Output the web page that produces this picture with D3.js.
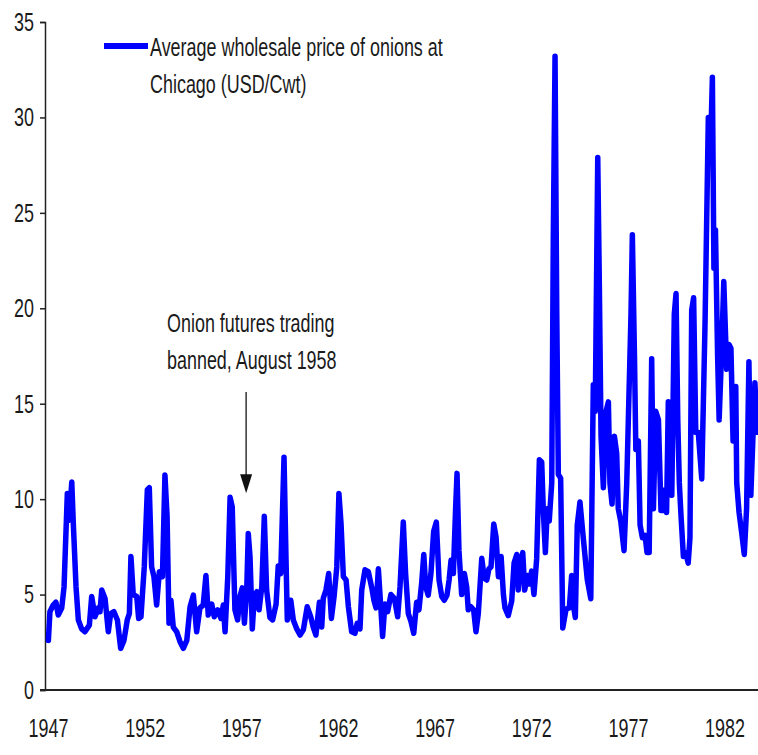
<!DOCTYPE html>
<html>
<head>
<meta charset="utf-8">
<title>Onion prices</title>
<script src="https://cdn.jsdelivr.net/npm/d3@7"></script>
<style>
	body { margin: 0; background: #fff; }
	text { font-family: "Liberation Sans", Arial, sans-serif; fill: #1a1a1a; }
</style>
</head>
<body>
<script>

// decimal years of the line vertices
var dates = [
	1947.02, 1947.10, 1947.27, 1947.41, 1947.53, 1947.71, 1947.83, 1948.00, 1948.10, 1948.23,
	1948.31, 1948.45, 1948.57, 1948.74, 1948.91, 1949.14, 1949.26, 1949.43, 1949.60, 1949.69,
	1949.78, 1949.95, 1950.12, 1950.24, 1950.41, 1950.59, 1950.76, 1950.93, 1951.10, 1951.21,
	1951.29, 1951.41, 1951.59, 1951.69, 1951.81, 1951.98, 1952.14, 1952.24, 1952.36, 1952.48,
	1952.62, 1952.76, 1952.92, 1953.05, 1953.16, 1953.26, 1953.36, 1953.48, 1953.66, 1953.83,
	1954.00, 1954.18, 1954.35, 1954.52, 1954.69, 1954.86, 1955.03, 1955.17, 1955.29, 1955.47,
	1955.60, 1955.78, 1955.95, 1956.07, 1956.16, 1956.30, 1956.42, 1956.53, 1956.67, 1956.81,
	1956.93, 1957.05, 1957.16, 1957.28, 1957.36, 1957.45, 1957.57, 1957.67, 1957.80, 1957.92,
	1958.06, 1958.19, 1958.31, 1958.48, 1958.62, 1958.80, 1958.91, 1959.04, 1959.21, 1959.31,
	1959.38, 1959.56, 1959.69, 1959.87, 1960.04, 1960.21, 1960.41, 1960.59, 1960.72, 1960.86,
	1961.04, 1961.16, 1961.24, 1961.38, 1961.52, 1961.66, 1961.80, 1961.94, 1962.05, 1962.16,
	1962.28, 1962.42, 1962.54, 1962.71, 1962.88, 1963.00, 1963.14, 1963.23, 1963.40, 1963.57,
	1963.75, 1963.86, 1963.97, 1964.09, 1964.21, 1964.31, 1964.43, 1964.57, 1964.74, 1964.92,
	1965.09, 1965.21, 1965.38, 1965.50, 1965.64, 1965.78, 1965.92, 1966.07, 1966.19, 1966.33,
	1966.44, 1966.54, 1966.67, 1966.81, 1966.95, 1967.09, 1967.23, 1967.37, 1967.50, 1967.64,
	1967.75, 1967.85, 1967.97, 1968.09, 1968.16, 1968.26, 1968.40, 1968.54, 1968.66, 1968.74,
	1968.88, 1969.02, 1969.14, 1969.26, 1969.44, 1969.57, 1969.70, 1969.81, 1969.92, 1970.06,
	1970.18, 1970.30, 1970.44, 1970.56, 1970.64, 1970.81, 1970.99, 1971.11, 1971.25, 1971.33,
	1971.45, 1971.56, 1971.66, 1971.80, 1971.90, 1972.02, 1972.14, 1972.28, 1972.42, 1972.54,
	1972.62, 1972.73, 1972.83, 1972.93, 1973.06, 1973.14, 1973.23, 1973.32, 1973.40, 1973.52,
	1973.63, 1973.80, 1973.97, 1974.09, 1974.18, 1974.28, 1974.38, 1974.52, 1974.69, 1974.90,
	1975.08, 1975.21, 1975.31, 1975.44, 1975.52, 1975.61, 1975.73, 1975.87, 1975.99, 1976.07,
	1976.18, 1976.30, 1976.42, 1976.50, 1976.63, 1976.80, 1976.94, 1977.16, 1977.23, 1977.34,
	1977.41, 1977.54, 1977.63, 1977.75, 1977.89, 1977.99, 1978.10, 1978.23, 1978.32, 1978.44,
	1978.58, 1978.71, 1978.83, 1978.92, 1979.00, 1979.09, 1979.18, 1979.27, 1979.40, 1979.49,
	1979.58, 1979.66, 1979.75, 1979.87, 1979.99, 1980.12, 1980.21, 1980.30, 1980.40, 1980.51,
	1980.64, 1980.82, 1980.99, 1981.16, 1981.28, 1981.37, 1981.45, 1981.53, 1981.64, 1981.72,
	1981.84, 1981.96, 1982.11, 1982.23, 1982.33, 1982.44, 1982.58, 1982.63, 1982.75, 1982.89,
	1983.02, 1983.14, 1983.26, 1983.36, 1983.50, 1983.57, 1983.68
];

// average wholesale price of onions at Chicago, USD/Cwt
var prices = [
	2.6, 4.1, 4.45, 4.6, 3.93, 4.3, 5.4, 10.3, 8.9, 10.9,
	8.7, 5.4, 3.67, 3.2, 3.05, 3.4, 4.9, 3.84, 4.3, 4.1,
	5.24, 4.8, 3.05, 4.0, 4.1, 3.67, 2.18, 2.6, 3.67, 4.0,
	7.0, 5.0, 4.9, 3.75, 3.84, 6.45, 10.5, 10.6, 6.45, 5.94,
	4.45, 6.2, 5.94, 11.26, 9.1, 3.5, 4.7, 3.3, 3.05, 2.53,
	2.18, 2.6, 4.36, 4.97, 3.05, 4.3, 4.45, 6.0, 3.93, 4.5,
	3.84, 4.2, 3.75, 4.45, 3.05, 5.94, 10.1, 9.6, 4.2, 3.67,
	4.9, 5.35, 3.5, 5.24, 8.2, 7.0, 3.2, 4.9, 5.15, 4.2,
	5.4, 9.1, 5.24, 3.8, 3.67, 4.5, 6.5, 6.1, 12.2, 7.0,
	3.67, 4.7, 3.67, 3.2, 2.88, 3.15, 4.36, 3.84, 3.3, 2.88,
	4.6, 3.3, 4.8, 5.24, 6.1, 3.75, 4.9, 6.45, 10.3, 8.7,
	5.94, 5.76, 4.36, 3.05, 2.97, 3.5, 3.2, 5.24, 6.3, 6.2,
	5.35, 4.7, 4.3, 6.35, 4.45, 2.8, 4.5, 4.1, 5.0, 4.8,
	3.84, 5.4, 8.8, 6.1, 4.0, 3.58, 2.97, 4.6, 4.2, 5.6,
	7.1, 5.4, 4.97, 6.1, 8.3, 8.8, 5.76, 4.9, 4.7, 4.97,
	5.76, 6.8, 6.1, 9.6, 11.35, 7.3, 5.0, 6.1, 5.4, 4.2,
	4.36, 4.2, 3.05, 4.0, 6.9, 5.85, 5.76, 6.35, 6.45, 8.7,
	8.0, 5.94, 7.0, 5.0, 4.3, 3.9, 4.67, 6.65, 7.1, 5.24,
	6.65, 7.2, 5.24, 6.0, 5.55, 6.23, 5.0, 6.88, 12.06, 11.95,
	9.5, 7.2, 9.5, 8.85, 10.85, 23.6, 33.2, 19.7, 11.3, 11.1,
	3.25, 4.24, 4.3, 6.0, 4.45, 3.8, 8.64, 9.85, 7.98, 5.77,
	4.78, 16.0, 14.6, 27.9, 21.4, 13.3, 10.6, 14.6, 15.1, 10.85,
	9.74, 13.3, 12.4, 9.5, 8.85, 7.3, 10.85, 19.7, 23.85, 17.5,
	12.6, 13.05, 8.64, 7.98, 8.1, 7.2, 7.2, 17.35, 9.5, 14.6,
	14.15, 9.41, 9.41, 10.5, 9.3, 15.1, 13.05, 10.2, 19.7, 20.77,
	14.15, 10.85, 9.08, 7.0, 7.2, 6.65, 7.98, 19.9, 20.55, 13.5,
	13.5, 11.06, 19.2, 30.0, 28.5, 32.1, 22.1, 24.1, 17.5, 14.15,
	17.5, 21.4, 16.8, 18.1, 17.9, 13.05, 15.9, 10.85, 9.3, 8.2,
	7.1, 9.5, 17.2, 10.2, 14.15, 16.1, 13.5
];

// axis ticks
var yearTicks = [1947, 1952, 1957, 1962, 1967, 1972, 1977, 1982];
var priceTicks = [0, 5, 10, 15, 20, 25, 30, 35];

// legend and annotation text
var legendLines = ["Average wholesale price of onions at", "Chicago (USD/Cwt)"];
var noteLines = ["Onion futures trading", "banned, August 1958"];
// where the arrow sits on the time axis, as drawn
var noteYear = 1957.25;
var noteValue = 10.1;

window.onload = function() {
	drawChart();
};

function drawChart() {

	var width = 758,
		height = 755;

	// tall, condensed lettering like the original
	var fontSize = 26;
	var squeeze = 0.69;

	var svg = d3.select("body")
				.append("svg")
				.attr("width", width)
				.attr("height", height);

	var xScale = d3.scaleLinear()
					.domain([1947, 1983.73])
					.range([48, 758]);

	var yScale = d3.scaleLinear()
					.domain([0, 35])
					.range([690, 22]);

	// y axis
	var yAxis = svg.append("g")
					.attr("transform", "translate(45,0)")
					.call(d3.axisLeft(yScale).tickValues(priceTicks).tickSize(5));

	yAxis.select(".domain").attr("stroke", "#222").attr("stroke-width", 1.5);
	yAxis.selectAll(".tick line").attr("stroke", "#222").attr("stroke-width", 1.5);
	yAxis.selectAll(".tick text")
		 .attr("x", null)
		 .attr("font-size", fontSize)
		 .attr("font-family", null)
		 .attr("fill", "#1a1a1a")
		 .attr("transform", "translate(-11,0) scale(" + squeeze + ",1)");

	// x axis, labels only
	var xAxis = svg.append("g")
					.attr("transform", "translate(0,690)")
					.call(d3.axisBottom(xScale).tickValues(yearTicks).tickSize(0).tickFormat(d3.format("d")));

	xAxis.select(".domain").remove();
	xAxis.selectAll(".tick text")
		 .attr("y", null)
		 .attr("dy", null)
		 .attr("font-size", fontSize)
		 .attr("font-family", null)
		 .attr("fill", "#1a1a1a")
		 .attr("transform", "translate(0,47) scale(" + squeeze + ",1)");

	// base line across the whole width
	svg.append("line")
	   .attr("x1", 40)
	   .attr("x2", width)
	   .attr("y1", yScale(0))
	   .attr("y2", yScale(0))
	   .attr("stroke", "#222")
	   .attr("stroke-width", 2);

	// the price line
	var points = dates.map(function(d, i) { return [d, prices[i]]; });

	var line = d3.line()
				 .x(function(d) { return xScale(d[0]); })
				 .y(function(d) { return yScale(d[1]); });

	svg.append("path")
	   .datum(points)
	   .attr("fill", "none")
	   .attr("stroke", "#0000ff")
	   .attr("stroke-width", 5.5)
	   .attr("stroke-linejoin", "round")
	   .attr("stroke-linecap", "round")
	   .attr("d", line);

	// legend
	svg.append("line")
	   .attr("x1", 104)
	   .attr("x2", 148)
	   .attr("y1", 46)
	   .attr("y2", 46)
	   .attr("stroke", "#0000ff")
	   .attr("stroke-width", 6);

	legendLines.forEach(function(t, i) {
		svg.append("text")
		   .attr("transform", "translate(150," + (56 + i * 37) + ") scale(" + squeeze + ",1)")
		   .attr("font-size", fontSize)
		   .text(t);
	});

	// annotation
	noteLines.forEach(function(t, i) {
		svg.append("text")
		   .attr("transform", "translate(167," + (332 + i * 37) + ") scale(" + squeeze + ",1)")
		   .attr("font-size", fontSize)
		   .text(t);
	});

	var ax = xScale(noteYear);
	var tipY = yScale(noteValue) - 4;

	svg.append("line")
	   .attr("x1", ax)
	   .attr("x2", ax)
	   .attr("y1", 392)
	   .attr("y2", tipY - 16)
	   .attr("stroke", "#333")
	   .attr("stroke-width", 1.5);

	svg.append("path")
	   .attr("d", "M" + (ax - 6) + "," + (tipY - 19) + "L" + (ax + 6) + "," + (tipY - 19) + "L" + ax + "," + tipY + "Z")
	   .attr("fill", "#111");
};

</script>
</body>
</html>
